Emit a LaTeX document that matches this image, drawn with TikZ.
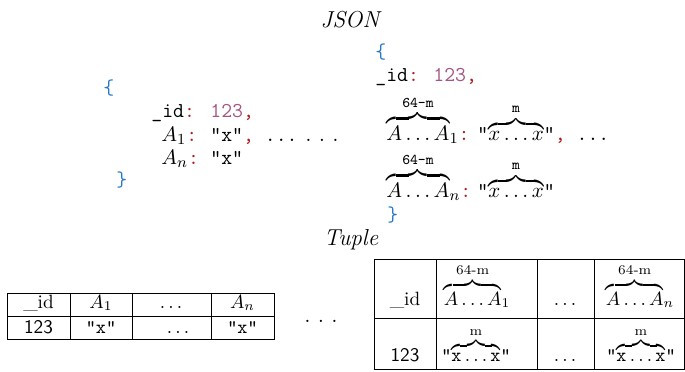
\documentclass[tikz,border=0pt]{standalone}
\usepackage{amsmath}
\usetikzlibrary{positioning}
\definecolor{jsonblue}{RGB}{40,120,200}
\definecolor{jsonnum}{RGB}{165,85,130}
\definecolor{jsonred}{RGB}{175,25,25}
\newcommand{\jcol}{\textcolor{jsonred}{:}}
\newcommand{\jcom}{\textcolor{jsonred}{,}}
\newcommand{\jnum}[1]{\textcolor{jsonnum}{#1}}
% A...A_i with its width on top
\newcommand{\abits}[1]{${\overbrace{A\ldots A}^{\text{64-m}}}_{#1}$}
\newcommand{\xbits}{$\overbrace{x\ldots x}^{\text{m}}$}
\newcommand{\xbitstt}{\texttt{"}$\overbrace{\texttt{x}\ldots\texttt{x}}^{\text{m}}$\texttt{"}}
\newcommand{\bigdots}{.\hspace{3.8pt}.\hspace{3.8pt}.}
\tikzset{
  json/.style={anchor=base west,inner sep=0pt,font=\fontsize{11}{13}\selectfont\ttfamily},
  jbrace/.style={json,text=jsonblue},
  title/.style={anchor=base,inner sep=0pt,font=\large\itshape},
  cell/.style={anchor=base,inner sep=0pt},
  grid/.style={line width=0.4pt},
}

\begin{document}
\begin{tikzpicture}[x=0.52pt,y=-0.52pt]
  \useasboundingbox (0,0) rectangle (685,371);

  \node[title] (json) at (350,28) {JSON};
  \node[title] (tuple) at (351,245) {Tuple};

  % JSON, one attribute per key
  \node[jbrace] (lopen) at (103,95) {\{};
  \node[json] (lkid) at (151,117) {\_id\jcol};
  \node[json] (lvid) at (210,117) {\jnum{123}\jcom};
  \node[json] (lka) at (161,141) {$A_1$\jcol};
  \node[json] (lva) at (210,141) {"x"\jcom{} ...};
  \node[json] (lkn) at (161,164) {$A_n$\jcol};
  \node[json] (lvn) at (210,164) {"x"};
  \node[jbrace] (lclose) at (116,186) {\}};

  \node[cell,font=\large] (jdots) at (322,141) {\bigdots};

  % JSON, bits packed in keys and values
  \node[jbrace] (ropen) at (375,59) {\{};
  \node[json] (rkid) at (375,81) {\_id\jcol};
  \node[json] (rvid) at (433,81) {\jnum{123}\jcom};
  \node[json] (rka) at (386,140) {\abits{1}\jcol};
  \node[json] (rva) at (477,140) {"\xbits"\jcom{} ...};
  \node[json] (rkn) at (386,197) {\abits{n}\jcol};
  \node[json] (rvn) at (477,197) {"\xbits"};
  \node[jbrace] (rclose) at (387,221) {\}};

  % tuple, one attribute per column
  \draw[grid] (7,293) rectangle (274,339);
  \draw[grid] (7,316) -- (274,316);
  \foreach \x in {70,132,211}
    \draw[grid] (\x,293) -- (\x,339);
  \node[cell] (lt11) at (38.5,308) {\_id};
  \node[cell] (lt12) at (101,308) {$A_1$};
  \node[cell] (lt13) at (171,308) {$\ldots$};
  \node[cell] (lt14) at (242.5,308) {$A_n$};
  \node[cell] (lt21) at (38.5,333) {\textsf{123}};
  \node[cell] (lt22) at (101,333) {\texttt{"x"}};
  \node[cell] (lt23) at (178,333) {$\ldots$};
  \node[cell] (lt24) at (242.5,333) {\texttt{"x"}};

  \node[cell,font=\large] (tdots) at (321,322) {\bigdots};

  % tuple, bits packed in columns
  \draw[grid] (374,259) rectangle (684,369);
  \draw[grid] (374,318) -- (684,318);
  \foreach \x in {436,537,594}
    \draw[grid] (\x,259) -- (\x,369);
  \node[cell] (rt11) at (405,305) {\_id};
  \node[cell] (rt12) at (477,305) {\abits{1}};
  \node[cell] (rt13) at (565,305) {$\ldots$};
  \node[cell] (rt14) at (640,305) {\abits{n}};
  \node[cell] (rt21) at (405,361) {\textsf{123}};
  \node[cell] (rt22) at (476,361) {\xbitstt};
  \node[cell] (rt23) at (565,361) {$\ldots$};
  \node[cell] (rt24) at (641,361) {\xbitstt};
\end{tikzpicture}
\end{document}
